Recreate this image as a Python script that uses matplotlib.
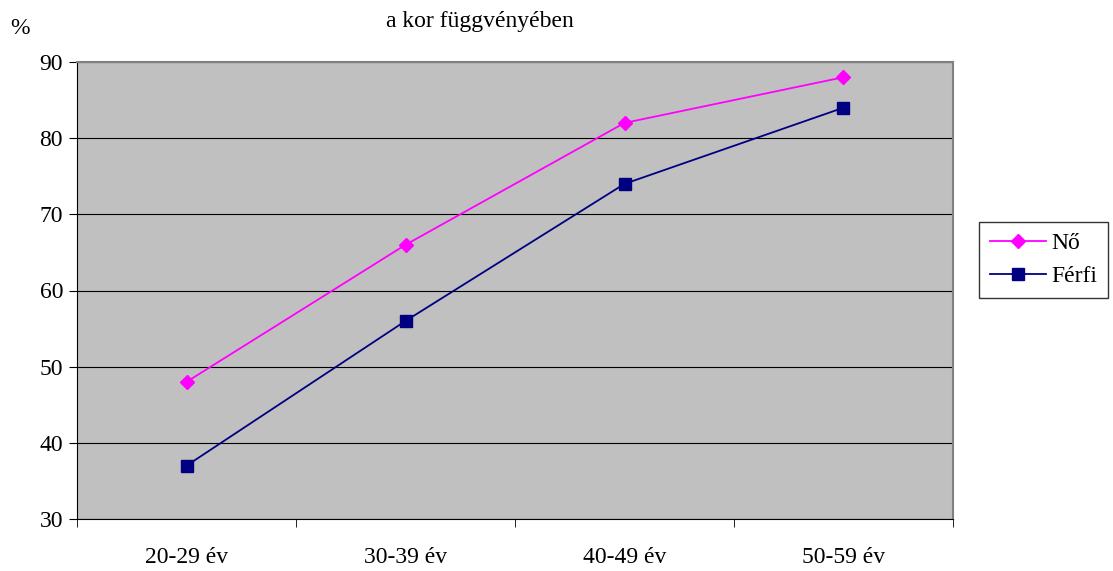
import matplotlib
matplotlib.use("Agg")
import matplotlib.pyplot as plt
from matplotlib.ticker import FixedLocator

categories = ["20-29 év", "30-39 év", "40-49 év", "50-59 év"]
no_values = [48, 66, 82, 88]
ferfi_values = [37, 56, 74, 84]
y_ticks = [30, 40, 50, 60, 70, 80, 90]

plt.rcParams['font.family'] = ['Liberation Serif', 'DejaVu Serif']

fig = plt.figure(figsize=(11.13, 5.71), dpi=100)
L, R, T, B = 77, 953, 62, 519
ax = fig.add_axes([L/1113, 1-B/571, (R-L)/1113, (B-T)/571])
ax.set_facecolor('#C0C0C0')

x = list(range(len(categories)))
ax.plot(x, no_values, color='#FF00FF', marker='D', markersize=7, lw=1.3, label='Nő', zorder=3)
ax.plot(x, ferfi_values, color='#000080', marker='s', markersize=8, lw=1.3, label='Férfi', zorder=3)

ax.set_xlim(-0.5, len(categories) - 0.5)
ax.set_ylim(30, 90)
ax.set_yticks(y_ticks)
ax.yaxis.grid(True, color='black', lw=0.8)
ax.set_axisbelow(True)
ax.set_xticks(x)
ax.set_xticklabels(categories, fontsize=17)
ax.tick_params(axis='x', which='major', length=0, pad=20)
ax.xaxis.set_minor_locator(FixedLocator([i - 0.5 for i in range(len(categories) + 1)]))
ax.tick_params(axis='x', which='minor', length=6, color='black', direction='out')
ax.tick_params(axis='y', labelsize=17, length=6, color='black', direction='out', pad=4)

for s in ['top', 'right']:
    ax.spines[s].set_color('#808080')
    ax.spines[s].set_linewidth(1.5)
ax.spines['left'].set_color('black')
ax.spines['bottom'].set_color('black')

fig.text(20/1113, 1-28/571, '%', fontsize=17, ha='center', va='center')
fig.text(480/1113, 1-21/571, 'a kor függvényében', fontsize=17, ha='center', va='center')

leg = ax.legend(loc='upper left', bbox_to_anchor=((979-L)/(R-L), (B-222)/(B-T)), fontsize=17,
                frameon=True, fancybox=False, edgecolor='black', borderpad=0.45,
                handlelength=2.4, handletextpad=0.2, labelspacing=0.5, borderaxespad=0)
leg.get_frame().set_linewidth(1.0)

fig.savefig('out.png', dpi=100)
